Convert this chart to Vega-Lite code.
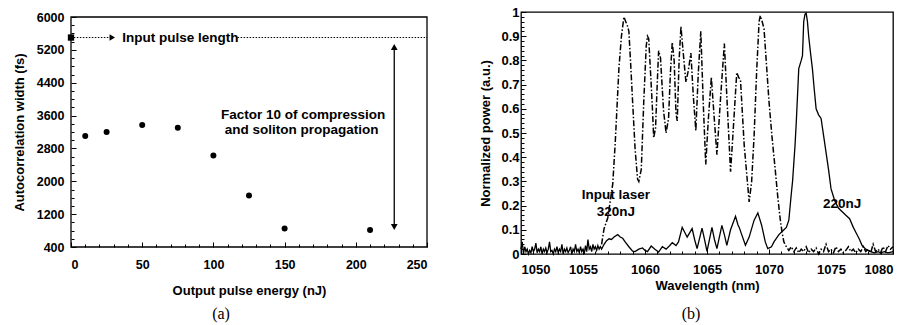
{
  "$schema": "https://vega.github.io/schema/vega-lite/v6.json",
  "background": "white",
  "padding": {"left": 13, "top": 5, "right": 5, "bottom": 2},
  "spacing": 94,
  "bounds": "flush",
  "datasets": {
    "pts": [
      {"x": 10, "y": 3100}, {"x": 25, "y": 3200}, {"x": 50, "y": 3370}, {"x": 75, "y": 3305},
      {"x": 100, "y": 2630}, {"x": 125, "y": 1655}, {"x": 150, "y": 850}, {"x": 210, "y": 815}
    ],
    "solid": [
      {"x": 1050.0, "y": 0.02}, {"x": 1050.1, "y": 0.05}, {"x": 1050.2, "y": 0.0}, {"x": 1050.3, "y": 0.03},
      {"x": 1050.4, "y": 0.01}, {"x": 1050.5, "y": 0.02}, {"x": 1050.6, "y": 0.0}, {"x": 1050.7, "y": 0.015},
      {"x": 1050.8, "y": 0.005}, {"x": 1050.9, "y": 0.03}, {"x": 1051.0, "y": 0.01}, {"x": 1051.1, "y": 0.02},
      {"x": 1051.2, "y": 0.045}, {"x": 1051.3, "y": 0.005}, {"x": 1051.4, "y": 0.02}, {"x": 1051.5, "y": 0.01},
      {"x": 1051.6, "y": 0.03}, {"x": 1051.7, "y": 0.0}, {"x": 1051.8, "y": 0.02}, {"x": 1051.9, "y": 0.01},
      {"x": 1052.0, "y": 0.025}, {"x": 1052.1, "y": 0.005}, {"x": 1052.2, "y": 0.02}, {"x": 1052.3, "y": 0.05},
      {"x": 1052.4, "y": 0.01}, {"x": 1052.5, "y": 0.015}, {"x": 1052.6, "y": 0.0}, {"x": 1052.7, "y": 0.02},
      {"x": 1052.8, "y": 0.01}, {"x": 1052.9, "y": 0.03}, {"x": 1053.0, "y": 0.005}, {"x": 1053.1, "y": 0.02},
      {"x": 1053.2, "y": 0.01}, {"x": 1053.3, "y": 0.04}, {"x": 1053.4, "y": 0.0}, {"x": 1053.5, "y": 0.02},
      {"x": 1053.6, "y": 0.01}, {"x": 1053.7, "y": 0.025}, {"x": 1053.8, "y": 0.005}, {"x": 1053.9, "y": 0.015},
      {"x": 1054.0, "y": 0.03}, {"x": 1054.1, "y": 0.0}, {"x": 1054.2, "y": 0.02}, {"x": 1054.3, "y": 0.01},
      {"x": 1054.4, "y": 0.04}, {"x": 1054.5, "y": 0.01}, {"x": 1054.6, "y": 0.02}, {"x": 1054.7, "y": 0.005},
      {"x": 1054.8, "y": 0.03}, {"x": 1054.9, "y": 0.01}, {"x": 1055.0, "y": 0.02}, {"x": 1055.1, "y": 0.0},
      {"x": 1055.2, "y": 0.035}, {"x": 1055.3, "y": 0.01}, {"x": 1055.4, "y": 0.06}, {"x": 1055.5, "y": 0.02},
      {"x": 1055.6, "y": 0.03}, {"x": 1055.7, "y": 0.01}, {"x": 1055.8, "y": 0.04}, {"x": 1055.9, "y": 0.02},
      {"x": 1056.0, "y": 0.03}, {"x": 1056.1, "y": 0.015}, {"x": 1056.2, "y": 0.035}, {"x": 1056.3, "y": 0.02},
      {"x": 1056.4, "y": 0.03}, {"x": 1056.5, "y": 0.02}, {"x": 1056.7, "y": 0.04}, {"x": 1056.9, "y": 0.055},
      {"x": 1057.1, "y": 0.063}, {"x": 1057.3, "y": 0.06}, {"x": 1057.5, "y": 0.07}, {"x": 1057.8, "y": 0.08},
      {"x": 1058.0, "y": 0.07}, {"x": 1058.2, "y": 0.065}, {"x": 1058.4, "y": 0.05}, {"x": 1058.7, "y": 0.03},
      {"x": 1059.0, "y": 0.012}, {"x": 1059.2, "y": 0.01}, {"x": 1059.5, "y": 0.02}, {"x": 1059.8, "y": 0.025},
      {"x": 1060.0, "y": 0.015}, {"x": 1060.2, "y": 0.01}, {"x": 1060.5, "y": 0.033}, {"x": 1060.8, "y": 0.02},
      {"x": 1061.1, "y": 0.008}, {"x": 1061.4, "y": 0.03}, {"x": 1061.7, "y": 0.02}, {"x": 1062.0, "y": 0.035},
      {"x": 1062.2, "y": 0.047}, {"x": 1062.5, "y": 0.035}, {"x": 1062.7, "y": 0.05}, {"x": 1063.0, "y": 0.11},
      {"x": 1063.2, "y": 0.09}, {"x": 1063.4, "y": 0.07}, {"x": 1063.8, "y": 0.105}, {"x": 1064.0, "y": 0.06},
      {"x": 1064.2, "y": 0.022}, {"x": 1064.6, "y": 0.107}, {"x": 1064.8, "y": 0.06}, {"x": 1065.0, "y": 0.011},
      {"x": 1065.4, "y": 0.11}, {"x": 1065.6, "y": 0.06}, {"x": 1065.8, "y": 0.022}, {"x": 1066.2, "y": 0.118},
      {"x": 1066.4, "y": 0.08}, {"x": 1066.6, "y": 0.036}, {"x": 1066.9, "y": 0.1}, {"x": 1067.3, "y": 0.156},
      {"x": 1067.5, "y": 0.12}, {"x": 1067.6, "y": 0.11}, {"x": 1067.8, "y": 0.08}, {"x": 1068.1, "y": 0.036},
      {"x": 1068.4, "y": 0.07}, {"x": 1068.8, "y": 0.14}, {"x": 1069.1, "y": 0.17}, {"x": 1069.4, "y": 0.12},
      {"x": 1069.7, "y": 0.05}, {"x": 1069.9, "y": 0.022}, {"x": 1070.2, "y": 0.03}, {"x": 1070.4, "y": 0.05},
      {"x": 1070.8, "y": 0.08}, {"x": 1071.1, "y": 0.095}, {"x": 1071.4, "y": 0.11}, {"x": 1071.6, "y": 0.14},
      {"x": 1071.8, "y": 0.25}, {"x": 1071.9, "y": 0.3}, {"x": 1072.1, "y": 0.45}, {"x": 1072.2, "y": 0.545},
      {"x": 1072.4, "y": 0.766}, {"x": 1072.6, "y": 0.8}, {"x": 1072.7, "y": 0.82}, {"x": 1072.8, "y": 0.96},
      {"x": 1072.9, "y": 0.99}, {"x": 1073.0, "y": 0.995}, {"x": 1073.1, "y": 0.96}, {"x": 1073.2, "y": 0.9},
      {"x": 1073.35, "y": 0.83}, {"x": 1073.5, "y": 0.766}, {"x": 1073.65, "y": 0.68}, {"x": 1073.8, "y": 0.6},
      {"x": 1074.0, "y": 0.575}, {"x": 1074.2, "y": 0.56}, {"x": 1074.4, "y": 0.49}, {"x": 1074.6, "y": 0.42},
      {"x": 1074.8, "y": 0.35}, {"x": 1075.0, "y": 0.27}, {"x": 1075.3, "y": 0.22}, {"x": 1075.6, "y": 0.19},
      {"x": 1075.8, "y": 0.18}, {"x": 1076.2, "y": 0.16}, {"x": 1076.5, "y": 0.146}, {"x": 1076.8, "y": 0.11},
      {"x": 1077.0, "y": 0.09}, {"x": 1077.3, "y": 0.06}, {"x": 1077.5, "y": 0.036}, {"x": 1077.8, "y": 0.02},
      {"x": 1078.0, "y": 0.015}, {"x": 1078.2, "y": 0.01}, {"x": 1078.5, "y": 0.005}, {"x": 1078.8, "y": 0.01},
      {"x": 1079.0, "y": 0.005}, {"x": 1079.3, "y": 0.01}, {"x": 1079.6, "y": 0.005}, {"x": 1080.0, "y": 0.01}
    ],
    "dd": [
      {"x": 1056.5, "y": 0.04}, {"x": 1056.7, "y": 0.105}, {"x": 1056.8, "y": 0.12}, {"x": 1057.0, "y": 0.15},
      {"x": 1057.2, "y": 0.22}, {"x": 1057.4, "y": 0.29}, {"x": 1057.6, "y": 0.46}, {"x": 1057.9, "y": 0.77},
      {"x": 1058.1, "y": 0.9}, {"x": 1058.3, "y": 0.98}, {"x": 1058.45, "y": 0.96}, {"x": 1058.6, "y": 0.94},
      {"x": 1058.7, "y": 0.92}, {"x": 1058.85, "y": 0.78}, {"x": 1059.0, "y": 0.63}, {"x": 1059.2, "y": 0.435},
      {"x": 1059.4, "y": 0.31}, {"x": 1059.5, "y": 0.3}, {"x": 1059.7, "y": 0.35}, {"x": 1059.9, "y": 0.63},
      {"x": 1060.1, "y": 0.86}, {"x": 1060.2, "y": 0.9}, {"x": 1060.3, "y": 0.89}, {"x": 1060.5, "y": 0.7},
      {"x": 1060.6, "y": 0.6}, {"x": 1060.7, "y": 0.48}, {"x": 1060.85, "y": 0.52}, {"x": 1061.0, "y": 0.72},
      {"x": 1061.1, "y": 0.84}, {"x": 1061.25, "y": 0.81}, {"x": 1061.5, "y": 0.59}, {"x": 1061.7, "y": 0.5},
      {"x": 1061.9, "y": 0.56}, {"x": 1062.05, "y": 0.75}, {"x": 1062.2, "y": 0.875}, {"x": 1062.35, "y": 0.8},
      {"x": 1062.5, "y": 0.58}, {"x": 1062.6, "y": 0.55}, {"x": 1062.75, "y": 0.8}, {"x": 1062.9, "y": 0.94},
      {"x": 1063.05, "y": 0.85}, {"x": 1063.3, "y": 0.71}, {"x": 1063.5, "y": 0.76}, {"x": 1063.7, "y": 0.83},
      {"x": 1063.9, "y": 0.65}, {"x": 1064.1, "y": 0.51}, {"x": 1064.3, "y": 0.75}, {"x": 1064.5, "y": 0.92},
      {"x": 1064.7, "y": 0.62}, {"x": 1064.9, "y": 0.37}, {"x": 1065.1, "y": 0.55}, {"x": 1065.35, "y": 0.73},
      {"x": 1065.6, "y": 0.55}, {"x": 1065.8, "y": 0.41}, {"x": 1066.1, "y": 0.65}, {"x": 1066.4, "y": 0.87},
      {"x": 1066.6, "y": 0.65}, {"x": 1066.9, "y": 0.34}, {"x": 1067.1, "y": 0.5}, {"x": 1067.4, "y": 0.75},
      {"x": 1067.55, "y": 0.73}, {"x": 1067.7, "y": 0.72}, {"x": 1068.0, "y": 0.45}, {"x": 1068.4, "y": 0.215},
      {"x": 1068.6, "y": 0.3}, {"x": 1068.8, "y": 0.49}, {"x": 1069.0, "y": 0.75}, {"x": 1069.2, "y": 0.96},
      {"x": 1069.3, "y": 0.985}, {"x": 1069.45, "y": 0.96}, {"x": 1069.6, "y": 0.93}, {"x": 1069.8, "y": 0.78},
      {"x": 1070.0, "y": 0.63}, {"x": 1070.25, "y": 0.48}, {"x": 1070.5, "y": 0.35}, {"x": 1070.7, "y": 0.24},
      {"x": 1070.9, "y": 0.146}, {"x": 1071.05, "y": 0.09}, {"x": 1071.2, "y": 0.05}, {"x": 1071.4, "y": 0.03},
      {"x": 1071.6, "y": 0.015}, {"x": 1071.8, "y": 0.03}, {"x": 1072.0, "y": 0.01}, {"x": 1072.2, "y": 0.025},
      {"x": 1072.4, "y": 0.005}, {"x": 1072.6, "y": 0.02}, {"x": 1072.8, "y": 0.01}, {"x": 1073.0, "y": 0.03},
      {"x": 1073.2, "y": 0.005}, {"x": 1073.4, "y": 0.02}, {"x": 1073.6, "y": 0.01}, {"x": 1073.8, "y": 0.025},
      {"x": 1074.0, "y": 0.0}, {"x": 1074.2, "y": 0.02}, {"x": 1074.4, "y": 0.01}, {"x": 1074.6, "y": 0.04},
      {"x": 1074.8, "y": 0.01}, {"x": 1075.0, "y": 0.02}, {"x": 1075.2, "y": 0.005}, {"x": 1075.4, "y": 0.03},
      {"x": 1075.6, "y": 0.01}, {"x": 1075.8, "y": 0.02}, {"x": 1076.0, "y": 0.005}, {"x": 1076.2, "y": 0.015},
      {"x": 1076.4, "y": 0.03}, {"x": 1076.6, "y": 0.01}, {"x": 1076.8, "y": 0.02}, {"x": 1077.0, "y": 0.005},
      {"x": 1077.2, "y": 0.02}, {"x": 1077.4, "y": 0.01}, {"x": 1077.6, "y": 0.03}, {"x": 1077.8, "y": 0.01},
      {"x": 1078.0, "y": 0.02}, {"x": 1078.2, "y": 0.005}, {"x": 1078.4, "y": 0.04}, {"x": 1078.6, "y": 0.01},
      {"x": 1078.8, "y": 0.02}, {"x": 1079.0, "y": 0.005}, {"x": 1079.2, "y": 0.03}, {"x": 1079.4, "y": 0.01},
      {"x": 1079.6, "y": 0.035}, {"x": 1079.8, "y": 0.02}, {"x": 1080.0, "y": 0.03}
    ]
  },
  "hconcat": [
    {
      "width": 356,
      "height": 242,
      "view": {"stroke": null},
      "title": {"text": "(a)", "orient": "bottom", "font": "Liberation Serif", "fontSize": 16, "fontWeight": "normal", "color": "black", "dx": -28, "offset": 8},
      "resolve": {"axis": {"x": "independent", "y": "independent"}},
      "layer": [
        {
          "data": {"values": [{"x": 0, "x2": 250, "y": 400, "y2": 6000}]},
          "mark": {"type": "rect", "fillOpacity": 0, "stroke": "black", "strokeWidth": 1.3},
          "encoding": {
            "x": {"field": "x", "type": "quantitative", "scale": {"domain": [0, 250], "nice": false, "zero": false},
                  "axis": {"title": "Output pulse energy (nJ)", "values": [0, 50, 100, 150, 200, 250], "format": "d", "offset": -7, "tickSize": -5, "labelPadding": 16, "labelFontSize": 12.5, "titleFontSize": 13, "titlePadding": 14, "domain": false}},
            "x2": {"field": "x2"},
            "y": {"field": "y", "type": "quantitative", "scale": {"domain": [400, 6000], "nice": false, "zero": false, "range": [235, 5]},
                  "axis": {"title": "Autocorrelation width (fs)", "values": [400, 1200, 2000, 2800, 3600, 4400, 5200, 6000], "format": "d", "tickSize": -5, "labelPadding": 12, "labelFontSize": 12.5, "titleFontSize": 13, "titlePadding": 10, "domain": false}},
            "y2": {"field": "y2"}
          }
        },
        {
          "data": {"name": "pts"},
          "mark": {"type": "circle", "size": 36, "color": "black", "opacity": 1},
          "encoding": {
            "x": {"field": "x", "type": "quantitative",
                  "axis": {"title": null, "values": [10, 20, 30, 40, 60, 70, 80, 90, 110, 120, 130, 140, 160, 170, 180, 190, 210, 220, 230, 240], "labels": false, "domain": false, "tickSize": -3, "orient": "bottom", "offset": -7}},
            "y": {"field": "y", "type": "quantitative",
                  "axis": {"title": null, "values": [600, 800, 1000, 1400, 1600, 1800, 2200, 2400, 2600, 3000, 3200, 3400, 3800, 4000, 4200, 4600, 4800, 5000, 5400, 5600, 5800], "labels": false, "domain": false, "tickSize": -3, "orient": "left"}}
          }
        },
        {
          "data": {"values": [{"x": 0, "y": 5500}]},
          "mark": {"type": "square", "size": 40, "color": "black", "opacity": 1},
          "encoding": {"x": {"field": "x", "type": "quantitative", "axis": null}, "y": {"field": "y", "type": "quantitative", "axis": null}}
        },
        {
          "data": {"values": [{"x": 2, "x2": 28, "y": 5500}, {"x": 117, "x2": 250, "y": 5500}]},
          "mark": {"type": "rule", "color": "black", "strokeWidth": 1, "strokeDash": [1.5, 1.5]},
          "encoding": {"x": {"field": "x", "type": "quantitative", "axis": null}, "x2": {"field": "x2"}, "y": {"field": "y", "type": "quantitative", "axis": null}}
        },
        {
          "data": {"values": [{"x": 29, "y": 5500}]},
          "mark": {"type": "point", "shape": "triangle-right", "size": 40, "filled": true, "color": "black", "opacity": 1},
          "encoding": {"x": {"field": "x", "type": "quantitative", "axis": null}, "y": {"field": "y", "type": "quantitative", "axis": null}}
        },
        {
          "data": {"values": [{"x": 227, "y": 5270, "y2": 887}]},
          "mark": {"type": "rule", "color": "black", "strokeWidth": 1.3},
          "encoding": {"x": {"field": "x", "type": "quantitative", "axis": null}, "y": {"field": "y", "type": "quantitative", "axis": null}, "y2": {"field": "y2"}}
        },
        {
          "data": {"values": [{"x": 227, "y": 5270}]},
          "mark": {"type": "point", "shape": "triangle-up", "size": 45, "filled": true, "color": "black", "opacity": 1},
          "encoding": {"x": {"field": "x", "type": "quantitative", "axis": null}, "y": {"field": "y", "type": "quantitative", "axis": null}}
        },
        {
          "data": {"values": [{"x": 227, "y": 887}]},
          "mark": {"type": "point", "shape": "triangle-down", "size": 45, "filled": true, "color": "black", "opacity": 1},
          "encoding": {"x": {"field": "x", "type": "quantitative", "axis": null}, "y": {"field": "y", "type": "quantitative", "axis": null}}
        },
        {
          "data": {"values": [{"x": 36, "y": 5500, "t": "Input pulse length"}]},
          "mark": {"type": "text", "align": "left", "baseline": "middle", "fontSize": 13.5, "fontWeight": "bold", "color": "black"},
          "encoding": {"x": {"field": "x", "type": "quantitative", "axis": null}, "y": {"field": "y", "type": "quantitative", "axis": null}, "text": {"field": "t"}}
        },
        {
          "data": {"values": [{"x": 163, "y": 3614, "t": "Factor 10 of compression"}, {"x": 162, "y": 3250, "t": "and soliton propagation"}]},
          "mark": {"type": "text", "align": "center", "baseline": "middle", "fontSize": 13.5, "fontWeight": "bold", "color": "black"},
          "encoding": {"x": {"field": "x", "type": "quantitative", "axis": null}, "y": {"field": "y", "type": "quantitative", "axis": null}, "text": {"field": "t"}}
        }
      ]
    },
    {
      "width": 372,
      "height": 242,
      "view": {"stroke": "black", "strokeWidth": 1.3},
      "title": {"text": "(b)", "orient": "bottom", "font": "Liberation Serif", "fontSize": 16, "fontWeight": "normal", "color": "black", "dx": -16, "offset": 14},
      "resolve": {"axis": {"x": "independent", "y": "independent"}},
      "layer": [
        {
          "data": {"name": "solid"},
          "mark": {"type": "line", "color": "black", "strokeWidth": 1.3},
          "encoding": {
            "x": {"field": "x", "type": "quantitative", "scale": {"domain": [1050, 1080], "nice": false, "zero": false},
                  "axis": {"title": "Wavelength (nm)", "values": [1050, 1055, 1060, 1065, 1070, 1075, 1080], "format": "d", "tickSize": -5, "labelPadding": 14, "labelFontSize": 13, "titleFontSize": 13, "titlePadding": 3, "domain": false}},
            "y": {"field": "y", "type": "quantitative", "scale": {"domain": [0, 1], "nice": false, "zero": false},
                  "axis": {"title": "Normalized power (a.u.)", "values": [0, 0.1, 0.2, 0.3, 0.4, 0.5, 0.6, 0.7, 0.8, 0.9, 1], "format": "~g", "tickSize": -5, "labelPadding": 7, "labelFontSize": 13, "titleFontSize": 13, "titlePadding": 8, "domain": false}}
          }
        },
        {
          "data": {"name": "dd"},
          "mark": {"type": "line", "color": "black", "strokeWidth": 1.5, "strokeDash": [6, 2, 1.5, 2]},
          "encoding": {
            "x": {"field": "x", "type": "quantitative",
                  "axis": {"title": null, "values": [1051, 1052, 1053, 1054, 1056, 1057, 1058, 1059, 1061, 1062, 1063, 1064, 1066, 1067, 1068, 1069, 1071, 1072, 1073, 1074, 1076, 1077, 1078, 1079], "labels": false, "domain": false, "tickSize": -3, "orient": "bottom"}},
            "y": {"field": "y", "type": "quantitative",
                  "axis": {"title": null, "values": [0.02, 0.04, 0.06, 0.08, 0.12, 0.14, 0.16, 0.18, 0.22, 0.24, 0.26, 0.28, 0.32, 0.34, 0.36, 0.38, 0.42, 0.44, 0.46, 0.48, 0.52, 0.54, 0.56, 0.58, 0.62, 0.64, 0.66, 0.68, 0.72, 0.74, 0.76, 0.78, 0.82, 0.84, 0.86, 0.88, 0.92, 0.94, 0.96, 0.98], "labels": false, "domain": false, "tickSize": -3, "orient": "left"}}
          }
        },
        {
          "data": {"values": [{"x": 1057.66, "y": 0.244, "t": "Input laser"}, {"x": 1057.66, "y": 0.174, "t": "320nJ"}, {"x": 1075.9, "y": 0.207, "t": "220nJ"}]},
          "mark": {"type": "text", "align": "center", "baseline": "middle", "fontSize": 13.5, "fontWeight": "bold", "color": "black"},
          "encoding": {"x": {"field": "x", "type": "quantitative", "axis": null}, "y": {"field": "y", "type": "quantitative", "axis": null}, "text": {"field": "t"}}
        }
      ]
    }
  ],
  "config": {
    "font": "Liberation Sans",
    "axis": {"labelFont": "Liberation Sans", "labelFontWeight": "bold", "labelColor": "black", "titleFont": "Liberation Sans", "titleFontWeight": "bold", "titleColor": "black", "domainColor": "black", "tickColor": "black", "grid": false, "tickWidth": 1},
    "title": {"font": "Liberation Serif"}
  }
}
